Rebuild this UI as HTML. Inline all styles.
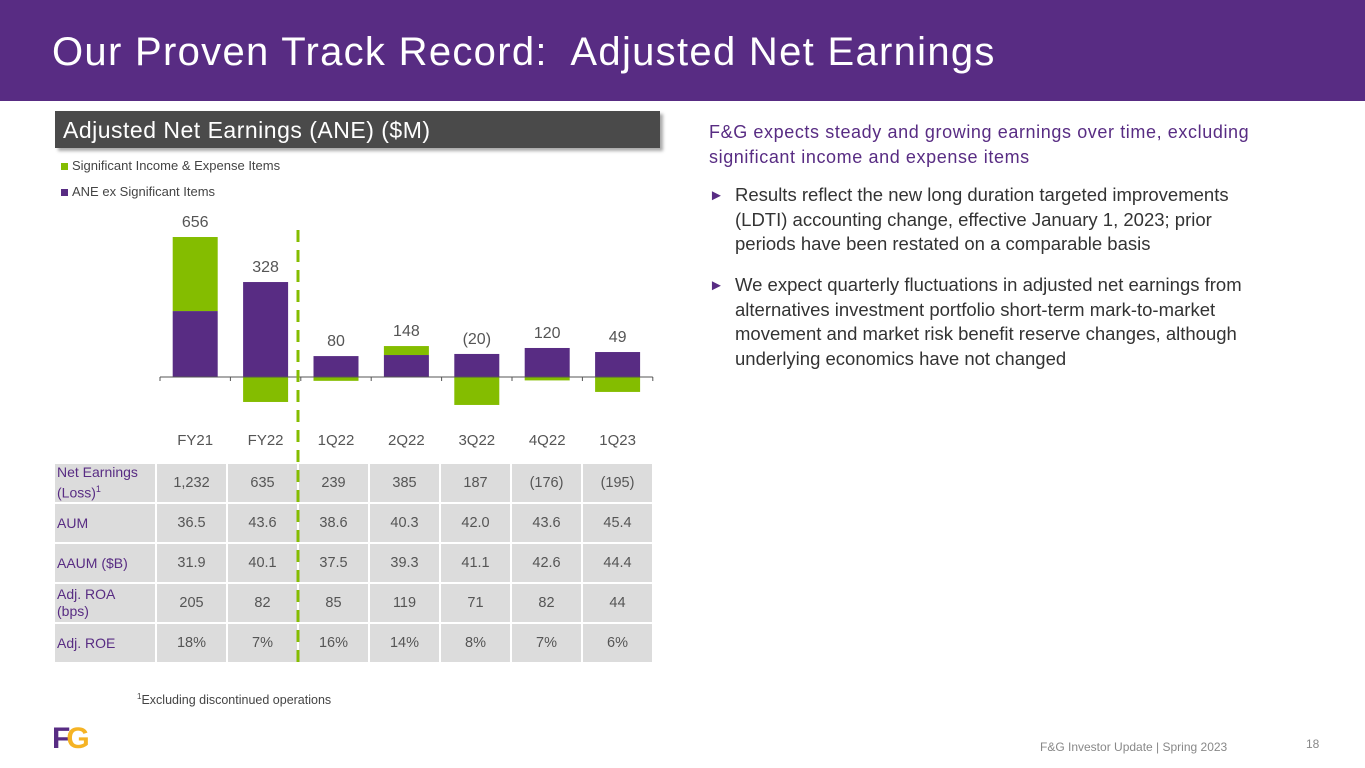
<!DOCTYPE html>
<html><head><meta charset="utf-8">
<style>
body{margin:0;width:1365px;height:768px;background:#fff;font-family:"Liberation Sans",sans-serif;position:relative;overflow:hidden}
.hdr{position:absolute;left:0;top:0;width:1365px;height:101px;background:#582c83}
.hdr h1{position:absolute;left:52px;top:30px;margin:0;font-weight:normal;color:#fff;font-size:40px;letter-spacing:1.3px;white-space:pre}
.sub{position:absolute;left:55px;top:111px;width:605px;height:37px;background:#4a4a4a;box-shadow:3px 3px 3px #aaa;color:#fff;font-size:23px;line-height:39px;padding-left:8px;box-sizing:border-box;letter-spacing:.5px}
.rt{position:absolute;left:709px;color:#333;font-size:18.5px;line-height:24.5px}
table{position:absolute;left:53px;top:462px;border-collapse:separate;border-spacing:2px 2px}
td{background:#dcdcdc;height:38px;text-align:center;font-size:14.5px;color:#555;padding:0;width:69px}
td.l{width:100px;text-align:left;color:#582c83;font-size:14px;line-height:17px;padding-left:2px;padding-right:14px;box-sizing:border-box}
</style></head><body>
<div class="hdr"><h1>Our Proven Track Record:  Adjusted Net Earnings</h1></div>
<div class="sub">Adjusted Net Earnings (ANE) ($M)</div>
<div style="position:absolute;left:61px;top:153px;font-size:13px;color:#444;line-height:26px">
<div><span style="display:inline-block;width:7px;height:7px;background:#84bd00;margin-right:4px"></span>Significant Income &amp; Expense Items</div>
<div><span style="display:inline-block;width:7px;height:7px;background:#582c83;margin-right:4px"></span>ANE ex Significant Items</div>
</div>
<svg id="chart" width="1365" height="768" style="position:absolute;left:0;top:0"></svg>
<table>
<tr><td class="l">Net Earnings (Loss)<sup style="font-size:9px">1</sup></td><td>1,232</td><td>635</td><td>239</td><td>385</td><td>187</td><td>(176)</td><td>(195)</td></tr>
<tr><td class="l">AUM</td><td>36.5</td><td>43.6</td><td>38.6</td><td>40.3</td><td>42.0</td><td>43.6</td><td>45.4</td></tr>
<tr><td class="l">AAUM ($B)</td><td>31.9</td><td>40.1</td><td>37.5</td><td>39.3</td><td>41.1</td><td>42.6</td><td>44.4</td></tr>
<tr><td class="l">Adj. ROA (bps)</td><td>205</td><td>82</td><td>85</td><td>119</td><td>71</td><td>82</td><td>44</td></tr>
<tr><td class="l">Adj. ROE</td><td>18%</td><td>7%</td><td>16%</td><td>14%</td><td>8%</td><td>7%</td><td>6%</td></tr>
</table>
<svg width="6" height="440" style="position:absolute;left:295px;top:230px"><line x1="3" y1="0" x2="3" y2="440" stroke="#84bd00" stroke-width="3" stroke-dasharray="12,8"/></svg>
<div style="position:absolute;left:137px;top:692px;font-size:12.5px;color:#444"><sup style="font-size:8px">1</sup>Excluding discontinued operations</div>
<div style="position:absolute;left:52px;top:722px;font-weight:bold;font-size:30px;letter-spacing:-4px"><span style="color:#582c83">F</span><span style="color:#f5b324">G</span></div>
<div class="rt" style="top:120px;color:#582c83;font-size:18px;letter-spacing:.6px;width:605px">F&amp;G expects steady and growing earnings over time, excluding significant income and expense items</div>
<div class="rt" style="top:183px;padding-left:26px;width:530px"><span style="position:absolute;left:0;top:1px;color:#582c83;font-size:15px">►</span>Results reflect the new long duration targeted improvements (LDTI) accounting change, effective January 1, 2023; prior periods have been restated on a comparable basis</div>
<div class="rt" style="top:273px;padding-left:26px;width:560px"><span style="position:absolute;left:0;top:1px;color:#582c83;font-size:15px">►</span>We expect quarterly fluctuations in adjusted net earnings from alternatives investment portfolio short-term mark-to-market movement and market risk benefit reserve changes, although underlying economics have not changed</div>
<div style="position:absolute;left:1040px;top:740px;font-size:12px;color:#888">F&amp;G Investor Update | Spring 2023</div>
<div style="position:absolute;left:1306px;top:737px;font-size:12px;color:#888">18</div>
<script>
const categories=["FY21","FY22","1Q22","2Q22","3Q22","4Q22","1Q23"];
const aneEx=[309,445,98,103,108,136,117];
const significant=[347,-117,-18,42,-131,-16,-70];
const totalLabels=["656","328","80","148","(20)","120","49"];
const svg=document.getElementById('chart');
const NS='http://www.w3.org/2000/svg';
const y0=377,k=0.2134,x0=160,step=70.4,bw=45;
const ys=v=>y0-v*k;
const xc=i=>x0+step*(i+0.5);
function mk(t,a){const e=document.createElementNS(NS,t);for(const n in a)e.setAttribute(n,a[n]);svg.appendChild(e);return e;}
categories.forEach((c,i)=>{
 const p=aneEx[i],s=significant[i];
 let r=mk('rect',{x:xc(i)-bw/2,y:ys(p),width:bw,height:p*k,fill:'#582c83'});
 
 
 let sy=s>=0?ys(p+s):y0, sh=Math.abs(s)*k;
 let g=mk('rect',{x:xc(i)-bw/2,y:sy,width:bw,height:sh,fill:'#84bd00'});
 
 
 let top=Math.min(ys(p),ys(p+Math.max(s,0)));
 let t=mk('text',{x:xc(i),y:top-10,'text-anchor':'middle','font-size':'16','fill':'#555','font-family':'Liberation Sans'});
 t.textContent=totalLabels[i];
 
 
 let cl=mk('text',{x:xc(i),y:445,'text-anchor':'middle','font-size':'15','fill':'#555','font-family':'Liberation Sans'});
 cl.textContent=c;
 
 
});
let ax=mk('line',{x1:x0,y1:y0,x2:x0+step*7,y2:y0,stroke:'#555','stroke-width':1});


for(let i=0;i<=7;i++){let tk=mk('line',{x1:x0+step*i,y1:y0,x2:x0+step*i,y2:y0+4,stroke:'#555'});

}
</script>
</body></html>
